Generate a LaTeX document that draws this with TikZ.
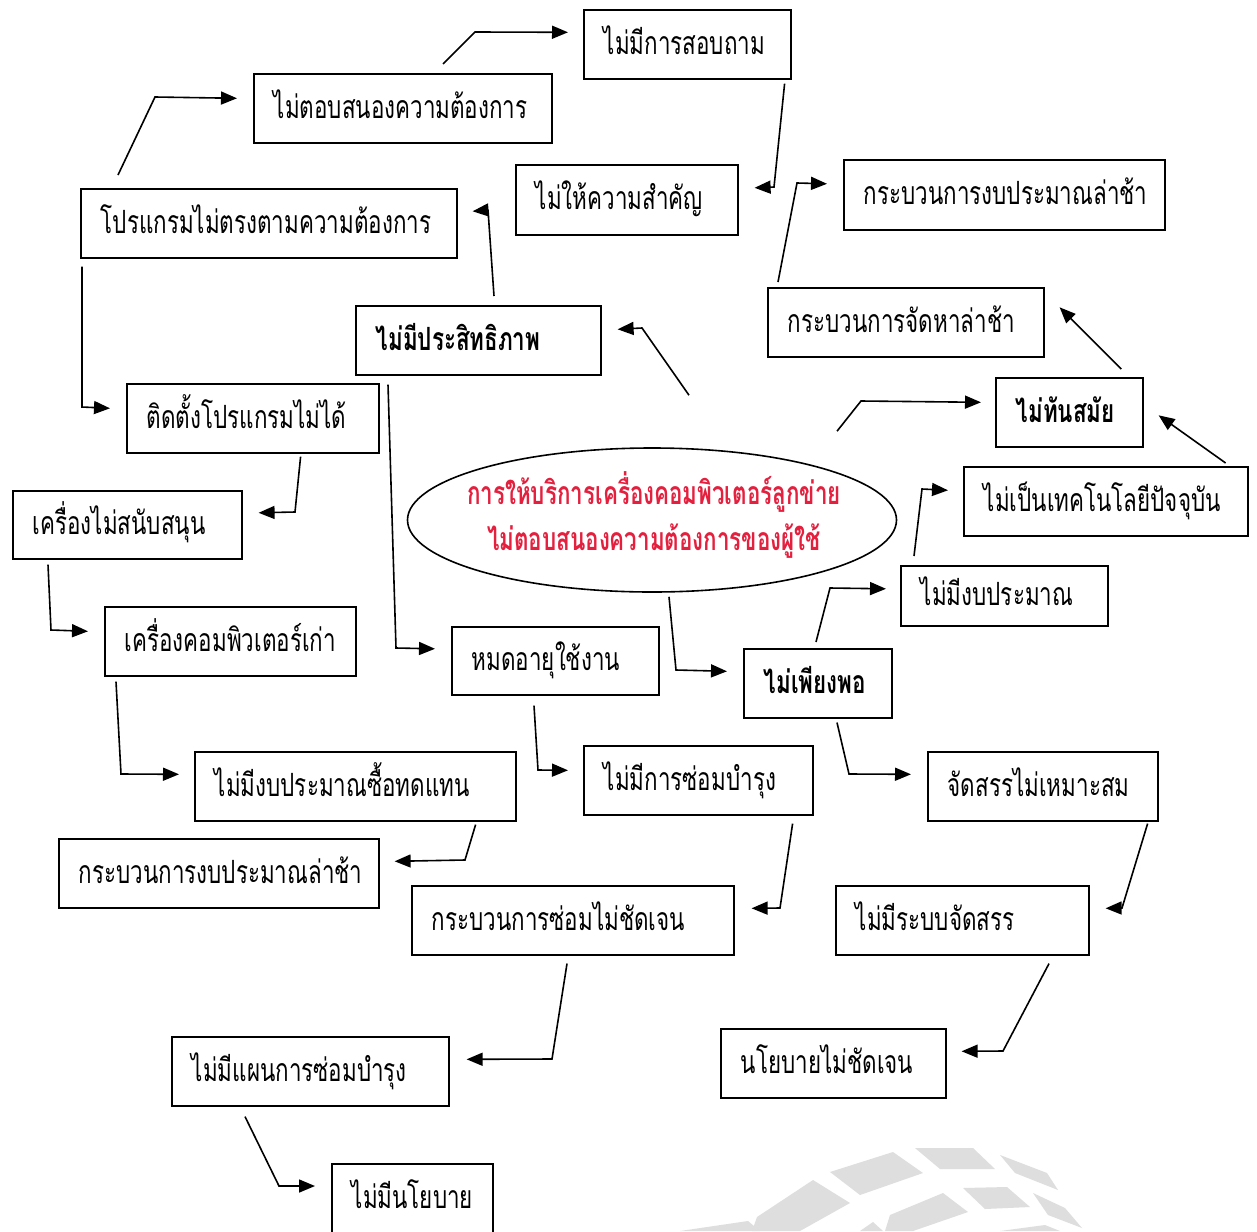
\documentclass[tikz,border=0pt]{standalone}
\usepackage{fontspec}
\setmainfont[Script=Thai,FakeStretch=0.7]{Loma}
\usetikzlibrary{arrows.meta,calc,shapes.geometric}
\definecolor{thred}{RGB}{228,32,62}
\definecolor{wmgray}{RGB}{222,222,222}
\tikzset{
  box/.style={draw, line width=1.6pt, anchor=north west, inner xsep=20pt, inner ysep=0pt, font=\fontsize{32}{36}\selectfont},
  arr/.style={line width=1.6pt, -{Triangle[length=16pt,width=13pt]}},
  wm/.style={fill=wmgray, draw=none}
}
\newcommand\bx[6]{\node[box, minimum width=#4pt, minimum height=#5pt] (#1) at (#2,#3) {\makebox[\dimexpr#4pt-40pt\relax][l]{\smash{#6}\rule[-3pt]{0pt}{26pt}}};}
\begin{document}
\begin{tikzpicture}[x=1pt,y=-1pt]
\fill[white] (0,0) rectangle (1257,1231);
\useasboundingbox (0,0) rectangle (1257,1231);
% watermark
\fill[wm] (830,1172) -- (893,1152) -- (923,1173) -- (860,1195) -- cycle;
\fill[wm] (915,1148) -- (973,1148) -- (995,1169) -- (940,1169) -- cycle;
\fill[wm] (1000,1155) -- (1047,1173) -- (1058,1190) -- (1015,1173) -- cycle;
\fill[wm] (757,1217) -- (813,1180) -- (850,1203) -- (800,1231) -- (752,1231) -- cycle;
\fill[wm] (890,1215) -- (943,1193) -- (968,1212) -- (913,1231) -- (885,1231) -- cycle;
\fill[wm] (963,1188) -- (1007,1187) -- (1030,1207) -- (985,1209) -- cycle;
\fill[wm] (1033,1193) -- (1065,1208) -- (1082,1228) -- (1048,1215) -- cycle;
\fill[wm] (680,1231) -- (748,1221) -- (760,1231) -- cycle;
\fill[wm] (860,1231) -- (873,1222) -- (883,1231) -- cycle;
\fill[wm] (1000,1231) -- (1045,1225) -- (1060,1231) -- cycle;
% boxes
\bx{b1}{583}{9}{207}{69}{ไม่มีการสอบถาม}
\bx{b2}{253}{73}{298}{69}{ไม่ตอบสนองความต้องการ}
\bx{b3}{515}{164}{222}{70}{ไม่ให้ความสำคัญ}
\bx{b4}{843}{159}{321}{70}{กระบวนการงบประมาณล่าช้า}
\bx{b5}{80}{188}{376}{69}{โปรแกรมไม่ตรงตามความต้องการ}
\bx{b6}{355}{305}{245}{69}{\bfseries ไม่มีประสิทธิภาพ}
\bx{b7}{767}{287}{276}{69}{กระบวนการจัดหาล่าช้า}
\bx{b8}{995}{377}{147}{69}{\bfseries ไม่ทันสมัย}
\bx{b9}{126}{383}{252}{69}{ติดตั้งโปรแกรมไม่ได้}
\bx{b10}{963}{466}{284}{69}{ไม่เป็นเทคโนโลยีปัจจุบัน}
\bx{b11}{12}{490}{229}{68}{เครื่องไม่สนับสนุน}
\bx{b12}{900}{565}{207}{60}{ไม่มีงบประมาณ}
\bx{b13}{104}{606}{251}{69}{เครื่องคอมพิวเตอร์เก่า}
\bx{b14}{451}{626}{207}{68}{หมดอายุใช้งาน}
\bx{b15}{743}{648}{148}{69}{\bfseries ไม่เพียงพอ}
\bx{b16}{194}{751}{321}{69}{ไม่มีงบประมาณซื้อทดแทน}
\bx{b17}{583}{745}{229}{69}{ไม่มีการซ่อมบำรุง}
\bx{b18}{927}{751}{230}{69}{จัดสรรไม่เหมาะสม}
\bx{b19}{58}{838}{320}{69}{กระบวนการงบประมาณล่าช้า}
\bx{b20}{411}{885}{322}{69}{กระบวนการซ่อมไม่ชัดเจน}
\bx{b21}{835}{885}{253}{69}{ไม่มีระบบจัดสรร}
\bx{b22}{171}{1036}{277}{69}{ไม่มีแผนการซ่อมบำรุง}
\bx{b23}{720}{1028}{225}{69}{นโยบายไม่ชัดเจน}
\bx{b24}{331}{1163}{161}{70}{ไม่มีนโยบาย}
% central ellipse
\node[ellipse, draw, line width=1.6pt, minimum width=489pt, minimum height=144pt, inner sep=0pt] (e) at (652,520) {};
\node[text=thred, align=center, inner sep=0pt, font=\fontsize{32}{46}\selectfont\bfseries] (et) at (654,515)
      {การให้บริการเครื่องคอมพิวเตอร์ลูกข่าย\\ไม่ตอบสนองความต้องการของผู้ใช้};
% connectors
\draw[arr] ($(b5.north west)+(38,-13)$) -- (155,97) -- ($(b2.west)+(-16,-10)$);
\draw[arr] ($(b2.north west)+(190,-9)$) -- (475,32) -- ($(b1.west)+(-15,-12)$);
\draw[arr] ($(b1.south east)+(-7,4)$) -- (774,187) -- ($(b3.east)+(16,-12)$);
\draw[arr] ($(b7.north west)+(11,-5)$) -- (797,183) -- ($(b4.west)+(-16,-11)$);
\draw[arr] ($(b6.north west)+(139,-9)$) -- (488,210) -- ($(b5.east)+(15,-12)$);
\draw[arr] ($(b5.south west)+(2,8)$) -- (82,407) -- ($(b9.west)+(-16,-10)$);
\draw[arr] ($(b6.south west)+(33,9)$) -- (396,648) -- ($(b14.west)+(-16,-12)$);
\draw[arr] ($(e.north)+(37,-52)$) -- (642,328) -- ($(b6.east)+(16,-11)$);
\draw[arr] ($(b9.south east)+(-79,3)$) -- (295,512) -- ($(b11.east)+(16,-12)$);
\draw[arr] ($(b11.south west)+(36,5)$) -- (51,630) -- ($(b13.west)+(-16,-10)$);
\draw[arr] ($(b13.south west)+(12,5)$) -- (121,774) -- ($(b16.west)+(-15,-12)$);
\draw[arr] ($(b16.south east)+(-41,3)$) -- (465,860) -- ($(b19.east)+(15,-12)$);
\draw[arr] ($(b14.south west)+(83,10)$) -- (538,770) -- ($(b17.west)+(-15,-10)$);
\draw[arr] ($(e.south)+(17,4)$) -- (676,670) -- ($(b15.west)+(-16,-12)$);
\draw[arr] ($(b15.north west)+(73,-6)$) -- (830,588) -- ($(b12.west)+(-14,-7)$);
\draw[arr] ($(b12.north west)+(14,-9)$) -- (922,489) -- ($(b10.west)+(-15,-11)$);
\draw[arr] ($(e.north)+(185,-16)$) -- (861,401) -- ($(b8.west)+(-14,-10)$);
\draw[arr] ($(b8.north)+(52,-8)$) -- ($(b7.east)+(15,-15)$);
\draw[arr] ($(b10.north east)+(-23,-3)$) -- ($(b8.east)+(15,3)$);
\draw[arr] ($(b15.south west)+(94,4)$) -- (849,774) -- ($(b18.west)+(-16,-12)$);
\draw[arr] ($(b17.south east)+(-21,8)$) -- (780,908) -- ($(b20.east)+(17,-12)$);
\draw[arr] ($(b18.south east)+(-11,2)$) -- (1122,908) -- ($(b21.east)+(16,-12)$);
\draw[arr] ($(b20.south west)+(156,8)$) -- (552,1059) -- ($(b22.east)+(17,-12)$);
\draw[arr] ($(b21.south west)+(214,8)$) -- (1003,1051) -- ($(b23.east)+(15,-12)$);
\draw[arr] ($(b22.south west)+(74,10)$) -- (279,1186) -- ($(b24.north west)+(-16,23)$);
\end{tikzpicture}
\end{document}
